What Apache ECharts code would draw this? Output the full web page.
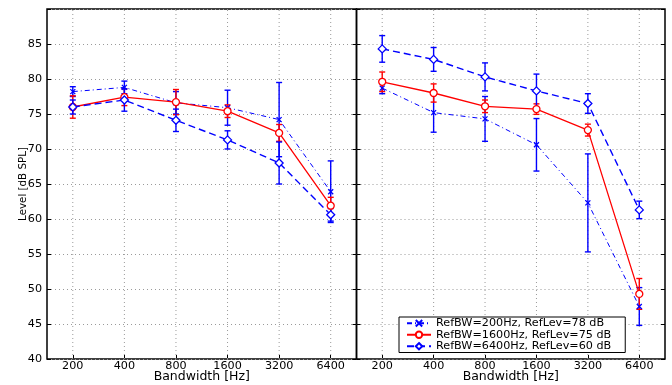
<!DOCTYPE html>
<html>
<head>
<meta charset="utf-8">
<script src="https://cdn.jsdelivr.net/npm/echarts@6/dist/echarts.min.js"></script>
<style>html,body{margin:0;padding:0;background:#fff}#c{width:672px;height:385px}</style>
</head>
<body>
<div id="c"></div>
<script>
// ---- data ----
const categories = ['200', '400', '800', '1600', '3200', '6400'];
const seriesNames = ['RefBW=200Hz, RefLev=78 dB', 'RefBW=1600Hz, RefLev=75 dB', 'RefBW=6400Hz, RefLev=60 dB'];
const yTickMin = 40, yTickMax = 90, yTickStep = 5;

// left panel
const leftA = [78.2, 78.8, 76.6, 75.9, 74.2, 63.9];
const leftAErr = [0.7, 0.9, 1.6, 2.5, 5.3, 4.4];
const leftB = [76.0, 77.4, 76.7, 75.4, 72.3, 61.9];
const leftBErr = [1.6, 1.2, 1.8, 0.9, 1.2, 1.2];
const leftC = [76.0, 77.0, 74.1, 71.3, 68.0, 60.6];
const leftCErr = [1.0, 1.6, 1.6, 1.3, 3.0, 0.9];

// right panel
const rightA = [78.7, 75.2, 74.3, 70.6, 62.3, 47.5];
const rightAErr = [0.8, 2.8, 3.2, 3.75, 7.0, 2.7];
const rightB = [79.6, 78.0, 76.1, 75.7, 72.7, 49.3];
const rightBErr = [1.4, 1.3, 0.9, 0.75, 0.85, 2.2];
const rightC = [84.3, 82.8, 80.3, 78.3, 76.5, 61.3];
const rightCErr = [1.9, 1.7, 2.0, 2.4, 1.4, 1.25];

// ---- styles ----
const BLUE = '#0000ff', RED = '#ff0000';
const FONT = '"DejaVu Sans", Verdana, sans-serif';
const styles = [
  { color: BLUE, dash: [5, 3, 1, 3], width: 1, symbol: 'path://M0,0L10,10M0,10L10,0', size: 5, fill: 'transparent' },
  { color: RED, dash: 'solid', width: 1.3, symbol: 'circle', size: 7, fill: '#fff' },
  { color: BLUE, dash: [7, 4], width: 1.4, symbol: 'diamond', size: 8, fill: '#fff' }
];

function errData(vals, errs) {
  return categories.map((c, i) => [c, vals[i] - errs[i], vals[i] + errs[i]]);
}

function errSeries(g, vals, errs, color, name) {
  return {
    type: 'custom', name: name, xAxisIndex: g, yAxisIndex: g * 2, z: 2, silent: true,
    data: errData(vals, errs),
    encode: { x: 0, y: [1, 2] },
    renderItem: function (params, api) {
      const x = api.value(0);
      const p1 = api.coord([x, api.value(1)]);
      const p2 = api.coord([x, api.value(2)]);
      const w = 3;
      const st = { stroke: color, lineWidth: 1.4 };
      return { type: 'group', children: [
        { type: 'line', shape: { x1: p1[0], y1: p1[1], x2: p2[0], y2: p2[1] }, style: st },
        { type: 'line', shape: { x1: p1[0] - w, y1: p1[1], x2: p1[0] + w, y2: p1[1] }, style: st },
        { type: 'line', shape: { x1: p2[0] - w, y1: p2[1], x2: p2[0] + w, y2: p2[1] }, style: st }
      ]};
    }
  };
}

function lineSeries(g, k, vals) {
  const s = styles[k];
  return {
    type: 'line', name: seriesNames[k], xAxisIndex: g, yAxisIndex: g * 2, z: 3,
    data: vals,
    symbol: s.symbol, symbolSize: s.size, showAllSymbol: true,
    itemStyle: { color: s.fill, borderColor: s.color, borderWidth: 1.3 },
    lineStyle: { color: s.color, width: s.width, type: s.dash },
    emphasis: { disabled: true },
    animation: false
  };
}

function gridLineSeries(g) {
  return {
    type: 'custom', xAxisIndex: g, yAxisIndex: g * 2, z: 1, silent: true,
    data: categories.map(c => [c]),
    encode: { x: 0 },
    renderItem: function (params, api) {
      const x = api.value(0);
      const p1 = api.coord([x, yTickMin]);
      const p2 = api.coord([x, yTickMax]);
      return { type: 'line', shape: { x1: p1[0], y1: p1[1], x2: p2[0], y2: p2[1] },
        style: { stroke: '#9a9a9a', lineWidth: 1, lineDash: [1, 3] } };
    }
  };
}

const grids = [
  { left: 47, top: 9, width: 309.5, height: 350 },
  { left: 356.5, top: 9, width: 308.5, height: 350 }
];

const xAxes = grids.map((gr, g) => ({
  type: 'category', gridIndex: g, data: categories, boundaryGap: true,
  name: 'Bandwidth [Hz]', nameLocation: 'middle', nameGap: 11, nameMoveOverlap: false,
  nameTextStyle: { fontFamily: FONT, fontSize: 12.5, color: '#000' },
  axisLine: { show: false },
  axisTick: { show: true, inside: true, length: 4, alignWithLabel: true, lineStyle: { color: '#000' } },
  axisLabel: { fontFamily: FONT, fontSize: 11.2, color: '#000', margin: 2 },
  splitLine: { show: false }
}));

const yAxes = [];
grids.forEach((gr, g) => {
  yAxes.push({
    type: 'value', gridIndex: g, position: 'left', min: yTickMin, max: yTickMax, interval: yTickStep,
    name: g === 0 ? 'Level [dB SPL]' : '', nameLocation: 'middle', nameGap: 19, nameMoveOverlap: false,
    nameTextStyle: { fontFamily: FONT, fontSize: 10.3, color: '#000' },
    axisLine: { show: false },
    axisTick: { show: true, inside: true, length: 4, lineStyle: { color: '#000' } },
    axisLabel: { show: g === 0, fontFamily: FONT, fontSize: 11.2, color: '#000', margin: 5,
      formatter: v => (v >= yTickMax ? '' : String(v)) },
    splitLine: { show: true, lineStyle: { color: '#9a9a9a', width: 1, type: [1, 3] } }
  });
  yAxes.push({
    type: 'value', gridIndex: g, position: 'right', min: yTickMin, max: yTickMax, interval: yTickStep,
    axisLine: { show: false },
    axisTick: { show: true, inside: true, length: 4, lineStyle: { color: '#000' } },
    axisLabel: { show: false }, splitLine: { show: false }
  });
});

const series = [
  gridLineSeries(0), gridLineSeries(1),
  errSeries(0, leftA, leftAErr, BLUE, 'eA0'),
  errSeries(0, leftB, leftBErr, RED, 'eB0'),
  errSeries(0, leftC, leftCErr, BLUE, 'eC0'),
  errSeries(1, rightA, rightAErr, BLUE, 'eA1'),
  errSeries(1, rightB, rightBErr, RED, 'eB1'),
  errSeries(1, rightC, rightCErr, BLUE, 'eC1'),
  lineSeries(0, 0, leftA), lineSeries(0, 1, leftB), lineSeries(0, 2, leftC),
  lineSeries(1, 0, rightA), lineSeries(1, 1, rightB), lineSeries(1, 2, rightC)
];

const chart = echarts.init(document.getElementById('c'), null, { renderer: 'canvas' });
chart.setOption({
  animation: false,
  backgroundColor: '#fff',
  grid: grids.map(gr => Object.assign({
    show: true, borderColor: '#000', borderWidth: 1.5, backgroundColor: 'transparent',
    containLabel: false, outerBoundsMode: 'none'
  }, gr)),
  xAxis: xAxes,
  yAxis: yAxes,
  legend: {
    data: seriesNames, orient: 'vertical', left: 399, top: 317,
    padding: [0.5, 14, 0.5, 7], itemGap: 0, itemWidth: 24, itemHeight: 8,
    backgroundColor: '#fff', borderColor: '#000', borderWidth: 1, borderRadius: 0,
    textStyle: { fontFamily: FONT, fontSize: 11.2, color: '#000', lineHeight: 11.5 },
    selectedMode: false
  },
  series: series
});
</script>
</body>
</html>
